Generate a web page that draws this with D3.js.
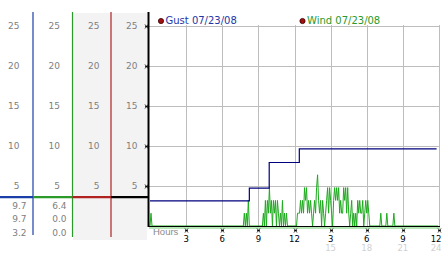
<!DOCTYPE html>
<html><head><meta charset="utf-8">
<script src="https://cdn.jsdelivr.net/npm/d3@7"></script>
<style>body{margin:0;background:#fff}svg{display:block}</style>
</head><body>
<svg id="c" width="442" height="253"></svg>
<script>
// ---- data ----
const yTicks = [5, 10, 15, 20, 25];
const xTickHours = [3, 6, 9, 12, 15, 18, 21, 24];
const xTickLabels = ["3", "6", "9", "12", "3", "6", "9", "12"];
const xSubHours = [15, 18, 21, 24];
const xSubLabels = ["15", "18", "21", "24"];
const seriesNames = ["Gust 07/23/08", "Wind 07/23/08"];
const gustHours = [0, 8.25, 9.9, 12.4, 23.8];
const gustMph = [3.2, 4.8, 8.0, 9.7, 9.7];
// wind samples: index of 5-minute slot, value (mph)
const windSlot = [0,1,2, 93,94,95,96,97,98,99,
  112,113,114,115,116,117,118,119,120,121,122,123,124,125,126,127,128,129,130,131,132,133,134,135,136,137,
  146,147,148,149,150,151,152,153,154,155,156,157,158,159,160,161,162,163,164,165,166,167,168,169,170,
  171,172,173,174,175,176,177,178,179,180,181,182,183,184,185,186,187,188,189,190,191,192,193,194,195,
  196,197,198,199,200,201,202,203,204,205,206,207,208,209,210,211,212,213,214,215,216,217,218,219,
  229,230,231,235,236,237,242,243,244,287];
const windMph = [0,1.6,0, 0,1.6,0,1.6,0,3.2,0,
  0,1.6,0,3.2,0,3.2,1.6,4.8,1.6,3.2,0,3.2,1.6,3.2,0,3.2,1.6,0,1.6,0,3.2,0,1.6,0,1.6,0,
  0,1.6,1.6,1.6,3.2,1.6,3.2,1.6,4.8,3.2,4.8,1.6,3.2,1.6,3.2,1.6,0,1.6,3.2,1.6,4.8,6.4,3.2,1.6,3.2,
  0,3.2,1.6,0,1.6,3.2,4.8,1.6,4.8,3.2,1.6,0,3.2,4.8,3.2,4.8,3.2,4.8,1.6,3.2,1.6,1.6,4.8,3.2,4.8,
  1.6,4.8,1.6,0,1.6,3.2,0,1.6,0,1.6,0,3.2,1.6,3.2,1.6,1.6,3.2,0,1.6,3.2,1.6,3.2,1.6,0,
  0,1.6,0,0,1.6,0,0,1.6,0,0];
const gustReadout = ["9.7", "9.7", "3.2"];
const windReadout = ["6.4", "0.0", "0.0"];
const cursorMph = 3.6;

// ---- layout ----
const svg = d3.select("#c");
const y = d3.scaleLinear().domain([0, 25]).range([226, 26]);
const x = d3.scaleLinear().domain([0, 24]).range([150, 439]);
const FONT = "DejaVu Sans, Verdana, sans-serif";

// left panel backgrounds
svg.append("rect").attr("x", 73).attr("y", 13).attr("width", 74).attr("height", 227).attr("fill", "#f3f3f3");

const cols = [
  {line: 33, lab: 19.5, color: "#1b3fa6", bottom: 235, left: 0},
  {line: 72.5, lab: 60, color: "#2b9a2b", bottom: 237, left: 33},
  {line: 111, lab: 99.5, color: "#b02222", bottom: 237, left: 72.5},
  {line: 148.5, lab: 137.5, color: "#000", bottom: 227, left: 111}
];

// horizontal gridlines
svg.append("g").selectAll("line").data(yTicks).join("line")
  .attr("x1", 149).attr("x2", 440).attr("y1", d => y(d) + 0.5).attr("y2", d => y(d) + 0.5)
  .attr("stroke", "#bdbdbd").attr("stroke-width", 1);
// vertical gridlines
svg.append("g").selectAll("line").data(xTickHours).join("line")
  .attr("x1", d => Math.round(x(d)) + 0.5).attr("x2", d => Math.round(x(d)) + 0.5)
  .attr("y1", 25).attr("y2", 226).attr("stroke", "#bdbdbd").attr("stroke-width", 1);

// wind series
const windPts = windSlot.map((s, i) => [s / 12, windMph[i]]);
svg.append("path").datum(windPts)
  .attr("d", d3.line().x(d => x(d[0])).y(d => y(d[1])))
  .attr("fill", "none").attr("stroke", "#1eaa1e").attr("stroke-width", 1);

// gust series
const gustPts = gustHours.map((h, i) => [h, gustMph[i]]);
svg.append("path").datum(gustPts)
  .attr("d", d3.line().curve(d3.curveStepAfter).x(d => x(d[0])).y(d => y(d[1]) + 0.5))
  .attr("fill", "none").attr("stroke", "#00007f").attr("stroke-width", 1.2);

// baseline
svg.append("line").attr("x1", 149).attr("x2", 440).attr("y1", 228).attr("y2", 228)
  .attr("stroke", "#9ee09e").attr("stroke-width", 1.5);
svg.append("line").attr("x1", 149).attr("x2", 440).attr("y1", y(0) + 0.5).attr("y2", y(0) + 0.5)
  .attr("stroke", "#000").attr("stroke-width", 1);

// column lines and labels
cols.forEach((c, i) => {
  svg.append("line").attr("x1", c.line).attr("x2", c.line).attr("y1", 12).attr("y2", c.bottom)
    .attr("stroke", c.color).attr("stroke-width", i === 3 ? 2 : 1.2);
  svg.append("g").selectAll("text").data(yTicks).join("text")
    .attr("x", c.lab).attr("y", d => y(d) + 3.3).attr("text-anchor", "end")
    .attr("font-family", FONT).attr("font-size", 9).attr("fill", "#808080").text(d => d);
  svg.append("line").attr("x1", c.left).attr("x2", i === 3 ? 148 : c.line)
    .attr("y1", y(cursorMph)).attr("y2", y(cursorMph))
    .attr("stroke", c.color).attr("stroke-width", 2.2);
});

// readouts
[[gustReadout, 26.5], [windReadout, 66.5]].forEach(([vals, xr]) => {
  svg.append("g").selectAll("text").data(vals).join("text")
    .attr("x", xr).attr("y", (d, i) => 208.5 + i * 13.7).attr("text-anchor", "end")
    .attr("font-family", FONT).attr("font-size", 9).attr("fill", "#808080").text(d => d);
});

// small tick glyphs
const glyph = "M-1.5,-2L1.5,2M1.5,-2L-1.5,2M-1.5,0L1.5,0";
svg.append("g").selectAll("path").data(yTicks).join("path")
  .attr("transform", d => `translate(146.5,${y(d) + 0.5})`).attr("d", glyph)
  .attr("stroke", "#000").attr("stroke-width", 0.8).attr("fill", "none");
svg.append("g").selectAll("path").data(xTickHours).join("path")
  .attr("transform", d => `translate(${Math.round(x(d)) + 0.5},230.5)`).attr("d", glyph)
  .attr("stroke", "#000").attr("stroke-width", 0.8).attr("fill", "none");

// x labels (the last one right-aligned so it stays inside the frame)
const lastH = xTickHours[xTickHours.length - 1];
const lx = d => d === lastH ? 441.5 : x(d);
const la = d => d === lastH ? "end" : "middle";
svg.append("g").selectAll("text").data(xTickHours).join("text")
  .attr("x", lx).attr("y", 241.5).attr("text-anchor", la)
  .attr("font-family", FONT).attr("font-size", 8.5).attr("fill", "#000")
  .text((d, i) => xTickLabels[i]);
svg.append("g").selectAll("text").data(xSubHours).join("text")
  .attr("x", lx).attr("y", 250.5).attr("text-anchor", la)
  .attr("font-family", FONT).attr("font-size", 8.5).attr("fill", "#d0d0d0")
  .text((d, i) => xSubLabels[i]);
svg.append("text").attr("x", 153).attr("y", 235).attr("font-family", "Liberation Sans, Arial, sans-serif")
  .attr("font-size", 9.5).attr("fill", "#8a8a8a").text("Hours");

// legend
const legend = [{x: 161, color: "#2236a8"}, {x: 302.5, color: "#2a9a2a"}];
legend.forEach((l, i) => {
  svg.append("circle").attr("cx", l.x).attr("cy", 21).attr("r", 2.6)
    .attr("fill", "#a50f0f").attr("stroke", "#3a0000").attr("stroke-width", 0.8);
  svg.append("text").attr("x", l.x + 4.5).attr("y", 24.3).attr("font-family", FONT)
    .attr("font-size", 10).attr("fill", l.color).text(seriesNames[i]);
});
</script>
</body></html>
